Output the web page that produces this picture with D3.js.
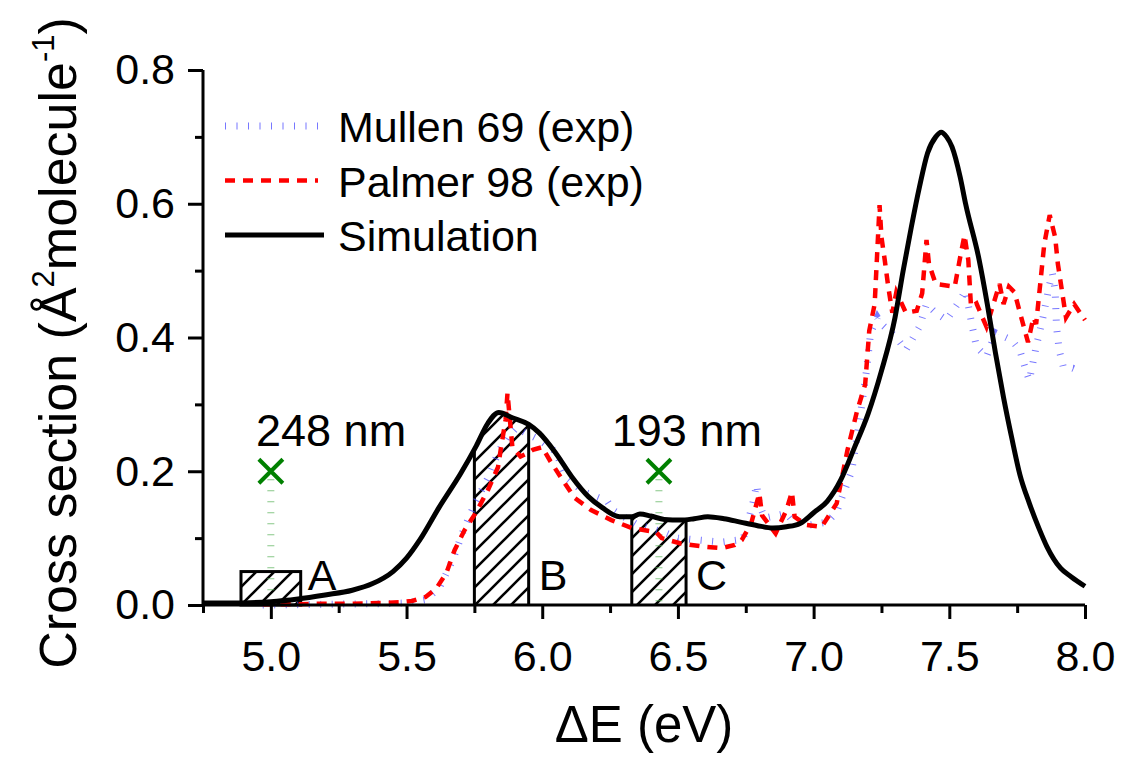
<!DOCTYPE html>
<html>
<head>
<meta charset="utf-8">
<script src="https://cdn.jsdelivr.net/npm/d3@7"></script>
<style>
  html, body { margin: 0; padding: 0; background: #fff; }
  svg { display: block; font-family: "Liberation Sans", Arial, sans-serif; }
</style>
</head>
<body>
<svg id="chart" width="1122" height="760"></svg>
<script>
// ---------------- data ----------------
const simEnergy = [4.75,4.85,5.0,5.1,5.2,5.3,5.375,5.45,5.5,5.55,5.62,5.7,5.757,5.8,5.84,5.89,5.95,5.99,6.05,6.11,6.17,6.22,6.285,6.33,6.36,6.40,6.45,6.51,6.56,6.61,6.67,6.73,6.79,6.85,6.9,6.95,7.0,7.05,7.1,7.15,7.2,7.25,7.3,7.33,7.36,7.39,7.42,7.45,7.47,7.49,7.51,7.54,7.56,7.61,7.64,7.67,7.7,7.73,7.76,7.795,7.83,7.86,7.91,7.95,8.0];
const simValue  = [0.003,0.003,0.005,0.009,0.015,0.022,0.032,0.050,0.070,0.098,0.146,0.197,0.238,0.272,0.288,0.280,0.270,0.257,0.227,0.191,0.162,0.146,0.132,0.132,0.136,0.133,0.128,0.127,0.129,0.132,0.129,0.124,0.119,0.115,0.117,0.122,0.138,0.155,0.187,0.235,0.285,0.35,0.43,0.50,0.565,0.625,0.676,0.700,0.707,0.700,0.685,0.640,0.600,0.516,0.450,0.377,0.310,0.250,0.195,0.152,0.115,0.087,0.055,0.042,0.028];

const palmerEnergy = [4.97,5.1,5.2,5.3,5.4,5.475,5.52,5.57,5.61,5.647,5.677,5.714,5.757,5.8,5.837,5.85,5.865,5.872,5.89,5.92,5.946,5.965,6.0,6.03,6.07,6.12,6.18,6.255,6.33,6.42,6.44,6.51,6.6,6.66,6.71,6.735,6.77,6.8,6.81,6.86,6.9,6.92,6.93,6.97,7.03,7.085,7.125,7.16,7.19,7.205,7.225,7.243,7.25,7.262,7.275,7.29,7.305,7.34,7.38,7.4,7.416,7.425,7.45,7.52,7.54,7.556,7.57,7.58,7.6,7.637,7.685,7.70,7.72,7.74,7.765,7.79,7.81,7.82,7.83,7.85,7.87,7.89,7.90,7.915,7.93,7.96,8.0];
const palmerValue  = [0.001,0.001,0.002,0.002,0.003,0.004,0.006,0.012,0.025,0.048,0.082,0.112,0.139,0.172,0.206,0.24,0.277,0.317,0.236,0.222,0.227,0.232,0.236,0.215,0.19,0.16,0.142,0.127,0.115,0.109,0.100,0.092,0.087,0.085,0.09,0.097,0.122,0.167,0.134,0.107,0.142,0.169,0.132,0.12,0.117,0.152,0.232,0.29,0.33,0.41,0.45,0.598,0.55,0.516,0.476,0.437,0.468,0.437,0.44,0.466,0.546,0.51,0.48,0.476,0.52,0.553,0.516,0.446,0.451,0.416,0.48,0.45,0.476,0.468,0.43,0.393,0.43,0.42,0.46,0.54,0.583,0.55,0.51,0.47,0.43,0.45,0.426];

const mullenEnergy = [4.97,5.2,5.4,5.5,5.57,5.62,5.67,5.71,5.75,5.8,5.84,5.87,5.905,5.95,5.99,6.05,6.09,6.15,6.24,6.26,6.35,6.395,6.46,6.5,6.58,6.66,6.74,6.775,6.79,6.8,6.82,6.9,6.92,6.99,7.05,7.085,7.11,7.14,7.17,7.195,7.21,7.235,7.25,7.305,7.34,7.39,7.416,7.45,7.49,7.54,7.56,7.58,7.6,7.637,7.67,7.73,7.76,7.785,7.795,7.82,7.845,7.87,7.88,7.89,7.895,7.905,7.92,7.955,7.99];
const mullenValue  = [0.0,0.001,0.002,0.003,0.008,0.025,0.067,0.112,0.15,0.19,0.23,0.25,0.265,0.255,0.247,0.229,0.19,0.17,0.155,0.142,0.12,0.115,0.107,0.1,0.097,0.094,0.098,0.15,0.18,0.15,0.13,0.137,0.127,0.12,0.124,0.139,0.167,0.2,0.277,0.351,0.407,0.43,0.42,0.40,0.381,0.416,0.45,0.437,0.426,0.456,0.47,0.426,0.386,0.371,0.407,0.396,0.381,0.347,0.336,0.386,0.43,0.48,0.496,0.47,0.416,0.381,0.356,0.354,0.348];

const seriesNames = ["Mullen 69 (exp)", "Palmer 98 (exp)", "Simulation"];

const bandLabels = ["A", "B", "C"];
const bandStart  = [4.89, 5.75, 6.33];
const bandEnd    = [5.11, 5.95, 6.53];
const bandTop    = [0.05, null, null];   // null: area under simulation

const markerEnergy = [5.0, 6.43];
const markerValue  = [0.2, 0.2];
const markerLabels = ["248 nm", "193 nm"];
const markerLabelEnergy = [5.222, 6.533];
const markerLabelValue  = [0.238, 0.238];

const xMajorTicks = [5.0, 5.5, 6.0, 6.5, 7.0, 7.5, 8.0];
const xMinorTicks = [4.75, 5.25, 5.75, 6.25, 6.75, 7.25, 7.75];
const yMajorTicks = [0.0, 0.2, 0.4, 0.6, 0.8];
const yMinorTicks = [0.1, 0.3, 0.5, 0.7];

// ---------------- layout ----------------
const svg = d3.select("#chart");
const pLeft = 203, pRight = 1085, pTop = 70, pBottom = 605;
const x = d3.scaleLinear().domain([4.75, 8.0]).range([pLeft, pRight]);
const y = d3.scaleLinear().domain([0, 0.8]).range([pBottom, pTop]);

const defs = svg.append("defs");
const pat = defs.append("pattern").attr("id", "hatch")
  .attr("patternUnits", "userSpaceOnUse").attr("width", 18).attr("height", 18);
pat.append("path").attr("d", "M-2,20 L20,-2 M-4,4 L4,-4 M14,22 L22,14")
  .attr("stroke", "#000").attr("stroke-width", 2.6);

const zip = (a, b) => a.map((v, i) => [v, b[i]]);
const simPts = zip(simEnergy, simValue);
const interp = (e) => {
  for (let i = 0; i < simPts.length - 1; i++) {
    const [e0, v0] = simPts[i], [e1, v1] = simPts[i + 1];
    if (e >= e0 && e <= e1) return v0 + (v1 - v0) * (e - e0) / (e1 - e0);
  }
  return 0;
};

// ---------------- bands ----------------
const bandG = svg.append("g");
bandLabels.forEach((lab, i) => {
  const x0 = bandStart[i], x1 = bandEnd[i];
  if (bandTop[i] !== null) {
    bandG.append("rect")
      .attr("x", x(x0)).attr("y", y(bandTop[i]))
      .attr("width", x(x1) - x(x0)).attr("height", y(0) - y(bandTop[i]))
      .attr("fill", "url(#hatch)").attr("stroke", "#000").attr("stroke-width", 3);
  } else {
    const pts = [[x0, interp(x0)]].concat(simPts.filter(p => p[0] > x0 && p[0] < x1)).concat([[x1, interp(x1)]]);
    const area = d3.area().x(d => x(d[0])).y0(y(0)).y1(d => y(d[1])).curve(d3.curveMonotoneX);
    bandG.append("path").attr("d", area(pts)).attr("fill", "url(#hatch)");
    [x0, x1].forEach(e => {
      bandG.append("line").attr("x1", x(e)).attr("x2", x(e))
        .attr("y1", y(0)).attr("y2", y(interp(e)))
        .attr("stroke", "#000").attr("stroke-width", 3);
    });
  }
  bandG.append("text").attr("x", x(x1) + (i === 0 ? 7 : 10)).attr("y", y(0) - 15)
    .attr("font-size", 43).text(lab);
});

// green dotted drop lines
markerEnergy.forEach((e, i) => {
  svg.append("line").attr("x1", x(e)).attr("x2", x(e))
    .attr("y1", y(markerValue[i]) + 8).attr("y2", y(0))
    .attr("stroke", "#5fb35f").attr("stroke-opacity", 0.75)
    .attr("stroke-width", 7).attr("stroke-dasharray", "1,10");
});

// ---------------- series ----------------
const line = d3.line().x(d => x(d[0])).y(d => y(d[1]));
const mullenStyle = { stroke: "#4a4aff", width: 7, dash: "1,10.5", opacity: 0.75 };
const palmerStyle = { stroke: "#ff0000", width: 4.5, dash: "10,8", opacity: 1 };
const simStyle = { stroke: "#000", width: 5, dash: null, opacity: 1 };

svg.append("path").attr("d", line(zip(mullenEnergy, mullenValue)))
  .attr("fill", "none").attr("stroke", mullenStyle.stroke).attr("stroke-opacity", mullenStyle.opacity)
  .attr("stroke-width", mullenStyle.width).attr("stroke-dasharray", mullenStyle.dash);
svg.append("path").attr("d", line(zip(palmerEnergy, palmerValue)))
  .attr("fill", "none").attr("stroke", palmerStyle.stroke)
  .attr("stroke-width", palmerStyle.width).attr("stroke-dasharray", palmerStyle.dash);
svg.append("path").attr("d", line.curve(d3.curveMonotoneX)(simPts))
  .attr("fill", "none").attr("stroke", simStyle.stroke)
  .attr("stroke-width", simStyle.width).attr("stroke-linejoin", "round");

// markers
markerEnergy.forEach((e, i) => {
  const cx = x(e), cy = y(markerValue[i]), r = 12;
  svg.append("path")
    .attr("d", `M${cx - r},${cy - r}L${cx + r},${cy + r}M${cx - r},${cy + r}L${cx + r},${cy - r}`)
    .attr("stroke", "#008000").attr("stroke-width", 4).attr("fill", "none");
  svg.append("text").attr("x", x(markerLabelEnergy[i])).attr("y", y(markerLabelValue[i]))
    .attr("text-anchor", "middle").attr("font-size", 45).text(markerLabels[i]);
});

// ---------------- axes ----------------
const axisG = svg.append("g");
axisG.append("line").attr("x1", pLeft).attr("x2", pRight).attr("y1", pBottom).attr("y2", pBottom)
  .attr("stroke", "#000").attr("stroke-width", 3);
axisG.append("line").attr("x1", pLeft).attr("x2", pLeft).attr("y1", pBottom + 1.5).attr("y2", pTop)
  .attr("stroke", "#000").attr("stroke-width", 3);

const xAxis = d3.axisBottom(x).tickValues(xMajorTicks).tickSize(14).tickPadding(21)
  .tickFormat(d3.format(".1f"));
const gx = axisG.append("g").attr("transform", `translate(0,${pBottom})`).call(xAxis);
const xMinor = d3.axisBottom(x).tickValues(xMinorTicks).tickSize(8).tickFormat("");
const gxm = axisG.append("g").attr("transform", `translate(0,${pBottom})`).call(xMinor);

const yAxis = d3.axisLeft(y).tickValues(yMajorTicks).tickSize(15).tickPadding(13)
  .tickFormat(d3.format(".1f"));
const gy = axisG.append("g").attr("transform", `translate(${pLeft},0)`).call(yAxis);
const yMinor = d3.axisLeft(y).tickValues(yMinorTicks).tickSize(8).tickFormat("");
const gym = axisG.append("g").attr("transform", `translate(${pLeft},0)`).call(yMinor);

[gx, gxm, gy, gym].forEach(g => {
  g.select(".domain").remove();
  g.selectAll(".tick line").attr("stroke", "#000").attr("stroke-width", 3);
  g.selectAll(".tick text").attr("font-size", 43).attr("fill", "#000")
    .attr("font-family", "Liberation Sans, Arial, sans-serif");
});

// axis titles
svg.append("text").attr("x", (pLeft + pRight) / 2).attr("y", 742)
  .attr("text-anchor", "middle").attr("font-size", 51).text("\u0394E (eV)");

const yt = svg.append("text").attr("transform", "translate(76,343) rotate(-90)")
  .attr("text-anchor", "middle").attr("font-size", 52);
yt.append("tspan").text("Cross section (\u00C5");
yt.append("tspan").attr("font-size", 31).attr("dy", -22).text("2");
yt.append("tspan").attr("dy", 22).text("molecule");
yt.append("tspan").attr("font-size", 31).attr("dy", -22).text("-1");
yt.append("tspan").attr("dy", 22).text(")");

// ---------------- legend ----------------
const legendStyles = [mullenStyle, palmerStyle, simStyle];
const legendRows = [126, 180.5, 235];
seriesNames.forEach((name, i) => {
  const st = legendStyles[i];
  const ly = legendRows[i];
  const ln = svg.append("line").attr("x1", 225).attr("x2", i === 2 ? 324 : 318)
    .attr("y1", ly).attr("y2", ly)
    .attr("stroke", st.stroke).attr("stroke-width", st.width).attr("stroke-opacity", st.opacity);
  if (st.dash) ln.attr("stroke-dasharray", st.dash);
  svg.append("text").attr("x", 338).attr("y", ly + 16).attr("font-size", 43).text(name);
});
</script>
</body>
</html>
